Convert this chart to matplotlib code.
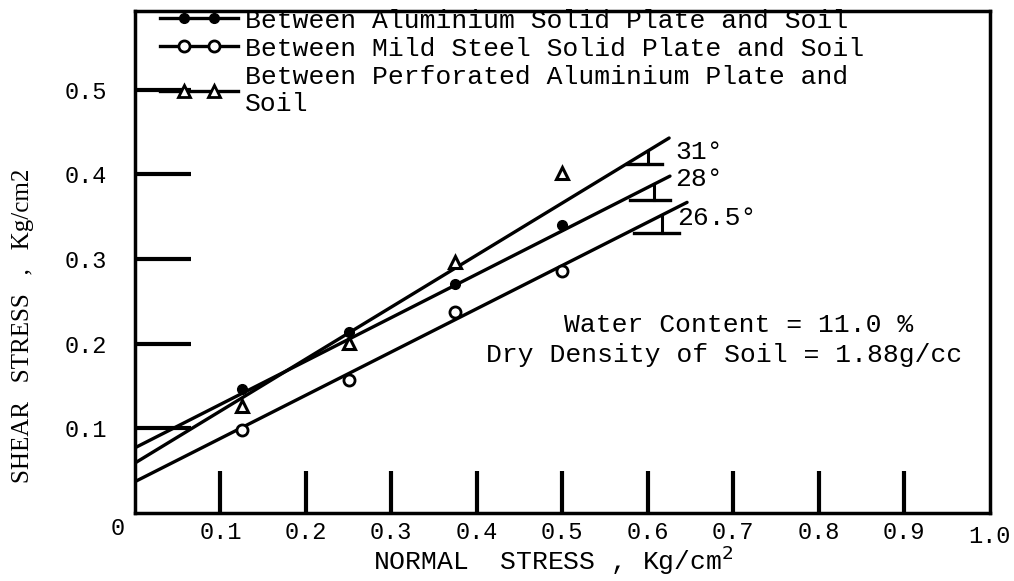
import matplotlib
import matplotlib.pyplot as plt
from matplotlib.lines import Line2D
from matplotlib.legend_handler import HandlerLine2D, HandlerTuple

matplotlib.use("Agg")
plt.rcParams["font.family"] = ["Liberation Mono", "DejaVu Sans Mono"]

# normal stress values at which tests were run (Kg/cm2)
normal = [0.125, 0.25, 0.375, 0.5]
# shear stress (Kg/cm2)
alu_solid = [0.146, 0.214, 0.271, 0.340]
steel_solid = [0.098, 0.157, 0.238, 0.286]
alu_perf = [0.127, 0.201, 0.297, 0.402]

# hand-drawn failure envelopes: (x start, y start) -> (x end, y end)
alu_line = [(0.0, 0.077), (0.626, 0.398)]
steel_line = [(0.0, 0.037), (0.646, 0.367)]
perf_line = [(0.0, 0.059), (0.625, 0.443)]

angles = ["31°", "28°", "26.5°"]
xticks = [0.1, 0.2, 0.3, 0.4, 0.5, 0.6, 0.7, 0.8, 0.9]
xtick_labels = ["0.1", "0.2", "0.3", "0.4", "0.5", "0.6", "0.7", "0.8", "0.9"]
yticks = [0.1, 0.2, 0.3, 0.4, 0.5]
ytick_labels = ["0.1", "0.2", "0.3", "0.4", "0.5"]

fig = plt.figure(figsize=(10.14, 5.81), dpi=100)
ax = fig.add_axes([0.133, 0.117, 0.843, 0.864])
ax.set_xlim(0, 1.0)
ax.set_ylim(0, 0.593)

for ln in (alu_line, steel_line, perf_line):
    ax.plot([ln[0][0], ln[1][0]], [ln[0][1], ln[1][1]], color="black", lw=2.4,
            solid_capstyle="round")

ax.plot(normal, alu_solid, "o", color="black", ms=7, ls="none")
ax.plot(normal, steel_solid, "o", mfc="white", mec="black", mew=2, ms=8, ls="none")
ax.plot(normal, alu_perf, "^", mfc="white", mec="black", mew=2.2, ms=8, ls="none")

# angle markers near the ends of the lines: horizontal, small vertical, label
marks = [
    (perf_line, 0.576, 0.617, 0.412, 0.600, 0.632, 0.427),
    (alu_line, 0.579, 0.626, 0.370, 0.607, 0.632, 0.394),
    (steel_line, 0.584, 0.637, 0.331, 0.617, 0.634, 0.349),
]
for (ln, x0, x1, yh, xv, lx, ly), lab in zip(marks, angles):
    slope = (ln[1][1] - ln[0][1]) / (ln[1][0] - ln[0][0])
    ytop = ln[0][1] + slope * xv
    ax.plot([x0, x1], [yh, yh], color="black", lw=2.4)
    ax.plot([xv, xv], [yh, ytop], color="black", lw=2.2)
    ax.text(lx, ly, lab, fontsize=19, va="center", ha="left")

ax.text(0.502, 0.2225, "Water Content = 11.0 %", fontsize=19, ha="left", va="center")
ax.text(0.411, 0.187, "Dry Density of Soil = 1.88g/cc", fontsize=19, ha="left", va="center")

ax.set_xticks(xticks)
ax.set_xticklabels(xtick_labels)
ax.set_yticks(yticks)
ax.set_yticklabels(ytick_labels)
ax.tick_params(axis="x", direction="in", length=30, width=3, pad=6, labelsize=17)
ax.tick_params(axis="y", direction="in", length=40, width=3, pad=20, labelsize=17)
ax.text(-0.012, -0.03, "0", fontsize=17, ha="right", va="center", transform=ax.transAxes)
ax.text(1.0, -0.046, "1.0", fontsize=17, ha="center", va="center", transform=ax.transAxes)
for sp in ax.spines.values():
    sp.set_linewidth(2.5)

fig.text(0.546, 0.036, "NORMAL  STRESS , Kg/cm$^2$", fontsize=19, ha="center", va="center")
fig.text(0.023, 0.439, "SHEAR   STRESS   ,   Kg/cm2", fontsize=18, rotation=90,
         ha="center", va="center", family=["Liberation Serif", "DejaVu Serif"])

# legend keys: a full-length line with two markers set inside it
key_line = [Line2D([], [], color="black", lw=2.4) for _ in range(3)]
key_mark = [
    Line2D([], [], ls="none", color="black", marker="o", ms=7),
    Line2D([], [], ls="none", marker="o", mfc="white", mec="black", mew=2, ms=8),
    Line2D([], [], ls="none", marker="^", mfc="white", mec="black", mew=2, ms=8),
]
hmap = {tuple: HandlerTuple(ndivide=1, pad=0)}
for h in key_line:
    hmap[h] = HandlerLine2D(marker_pad=0, numpoints=2)
for h in key_mark:
    hmap[h] = HandlerLine2D(marker_pad=0.9, numpoints=2)
labels = [
    "Between Aluminium Solid Plate and Soil",
    "Between Mild Steel Solid Plate and Soil",
    "Between Perforated Aluminium Plate and\nSoil",
]
fig.legend([(a, b) for a, b in zip(key_line, key_mark)], labels, loc="upper left",
           bbox_to_anchor=(0.158, 0.985), frameon=False, fontsize=19,
           handlelength=2.95, handletextpad=0.27, labelspacing=0.15,
           borderpad=0, borderaxespad=0, handler_map=hmap)

fig.savefig("out.png", dpi=100)
